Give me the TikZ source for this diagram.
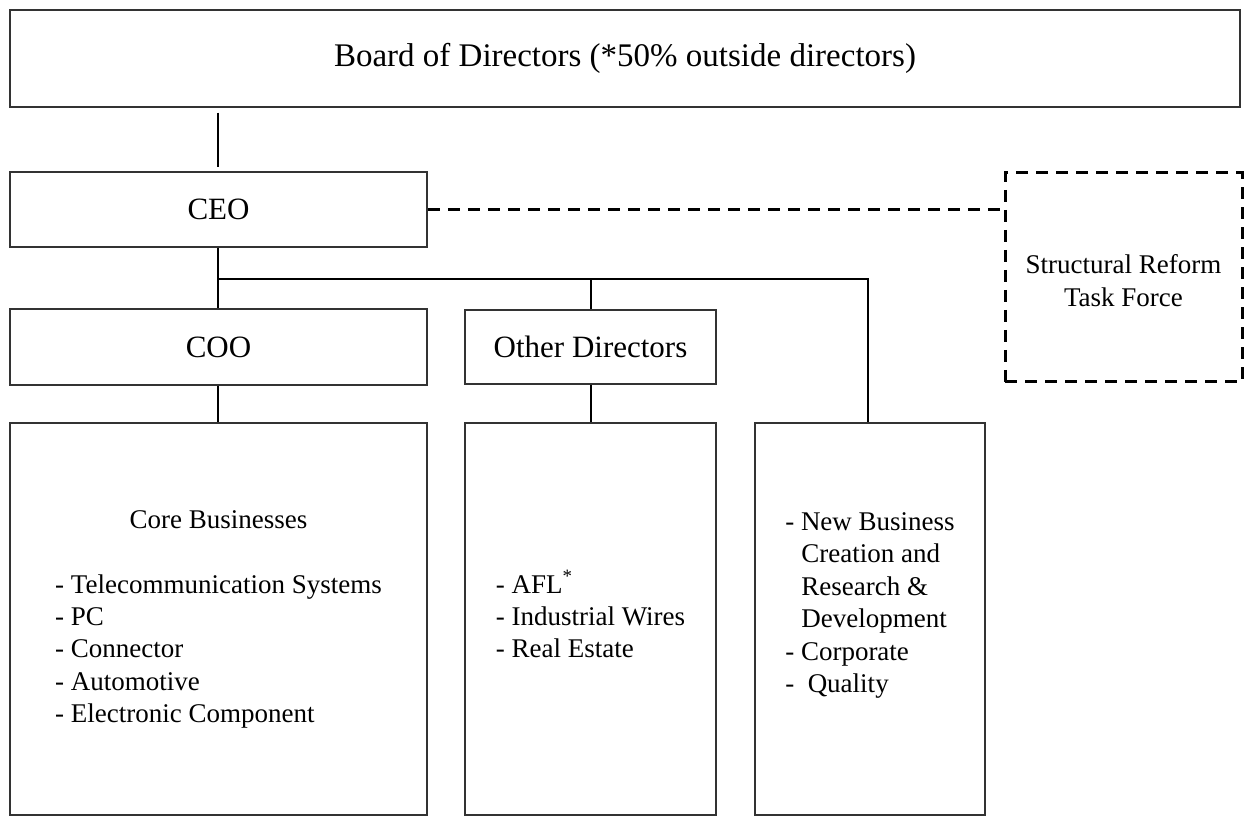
\documentclass[tikz,border=0pt]{standalone}
\usepackage{fontspec}
\setmainfont{Liberation Serif}
\usepackage{tikz}

\begin{document}
\begin{tikzpicture}[x=0.5pt,y=-0.5pt,
  box/.style={draw=black!80,line width=0.75pt,inner sep=0pt,align=center},
  link/.style={line width=1pt},
  dashlink/.style={line width=1.5pt,dash pattern=on 6pt off 4pt},
  big/.style={font=\fontsize{16.5}{19.5}\selectfont},
  mid/.style={font=\fontsize{15.5}{18}\selectfont},
  small/.style={font=\fontsize{13.5}{16.2}\selectfont}]

\useasboundingbox (0,0) rectangle (1249,817);

% Draw the boxes
\node[box,big,minimum width=615pt,minimum height=48.5pt] (board) at (625,58.5)
  {Board of Directors (*50\% outside directors)};
\node[box,mid,minimum width=208.5pt,minimum height=37.5pt] (ceo) at (218.5,209.5) {CEO};
\node[box,mid,minimum width=208.5pt,minimum height=38pt] (coo) at (218.5,347) {COO};
\node[box,mid,minimum width=125.5pt,minimum height=37pt] (other) at (590.5,347) {Other Directors};
\node[box,minimum width=118.5pt,minimum height=104.5pt,
  draw=black,dashlink] (task) at (1123.5,277.5) {};
\node[small,align=center,inner sep=0pt] (tasktext) at ([yshift=-1.5pt]task.center)
  {Structural Reform\\Task Force};

% Draw the business boxes
\node[box,small,minimum width=208.5pt,minimum height=196pt] (core) at (218.5,619)
  {\begin{tabular}{@{}l@{}}
   \multicolumn{1}{c}{Core Businesses}\\[16.2pt]
   - Telecommunication Systems\\
   - PC\\
   - Connector\\
   - Automotive\\
   - Electronic Component
   \end{tabular}};
\node[box,small,minimum width=125.5pt,minimum height=196pt] (affil) at (590.5,619)
  {\begin{tabular}{@{}l@{}}
   - AFL\textsuperscript{*}\\
   - Industrial Wires\\
   - Real Estate
   \end{tabular}};
\node[box,minimum width=115pt,minimum height=196pt] (newbiz) at (870,619) {};
\node[small,inner sep=0pt] (newbiztext) at ([yshift=7pt]newbiz.center)
  {\begin{tabular}{@{}l@{}}
   - New Business\\
   \hspace{0.6em}Creation and\\
   \hspace{0.6em}Research \&\\
   \hspace{0.6em}Development\\
   - Corporate\\
   -\hspace{0.5em}Quality
   \end{tabular}};

% Draw the connectors
\coordinate (junc) at (218,279);
\draw[link,shorten <=2.5pt,shorten >=2pt] (board.south -| 218,0) -- (ceo.north -| 218,0);
\draw[link] (ceo.south -| 218,0) -- (coo.north -| 218,0);
\draw[link] (junc) -| (newbiz.north -| 868,0);
\draw[link] (other.north) -- (other.north |- junc);
\draw[link] (coo.south -| 218,0) -- (core.north -| 218,0);
\draw[link] (other.south) -- (affil.north);
\draw[dashlink] (ceo.east) -- (ceo.east -| task.west);

\end{tikzpicture}
\end{document}
